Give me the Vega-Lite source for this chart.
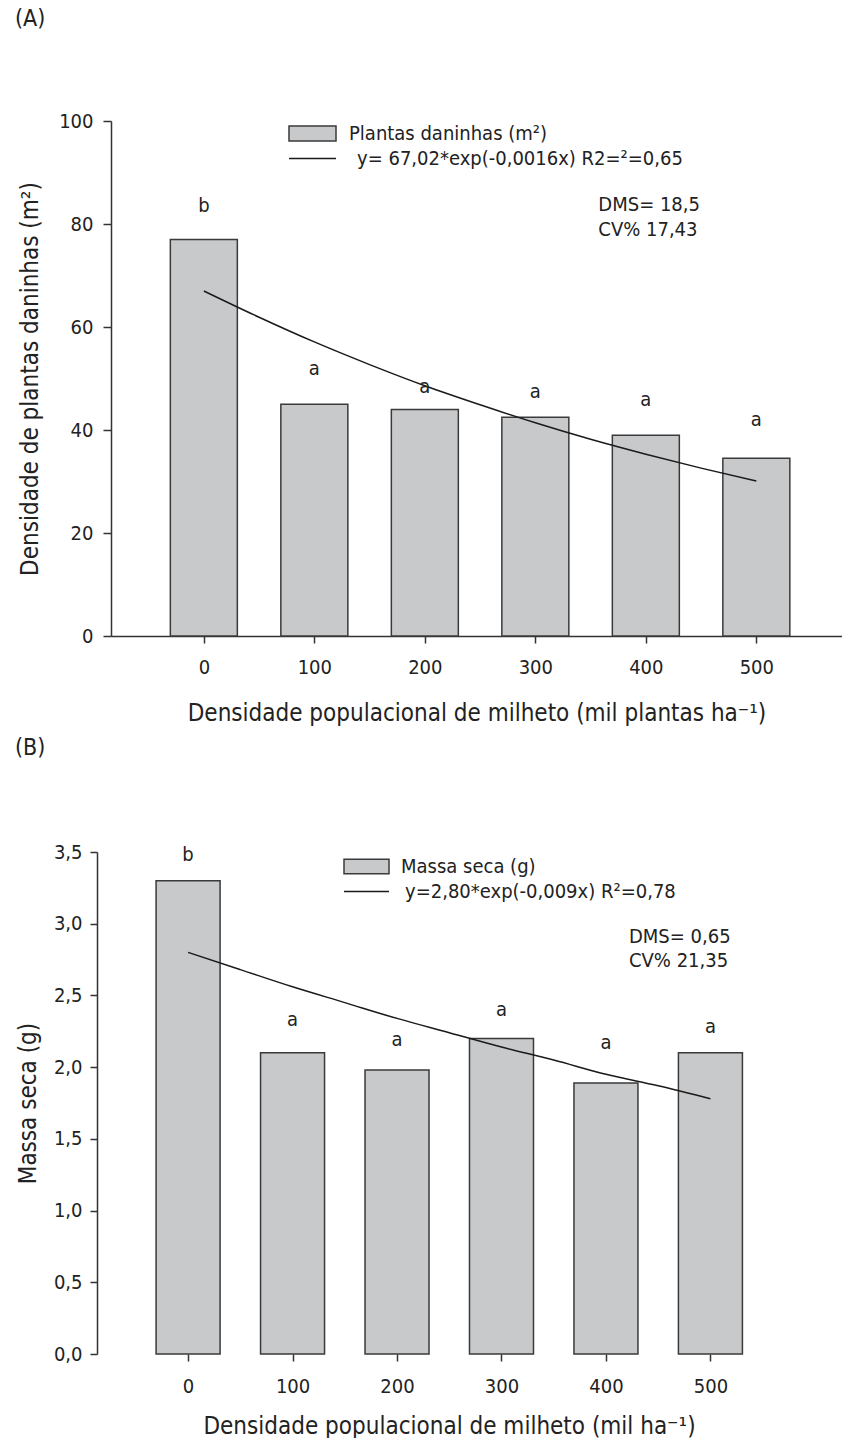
{
  "$schema": "https://vega.github.io/schema/vega-lite/v6.json",
  "background": "white",
  "padding": {"left": 15, "top": 8, "right": 0, "bottom": 0},
  "config": {
    "locale": {"number": {"decimal": ",", "thousands": ".", "grouping": [3], "currency": ["", ""]}},
    "font": "DejaVu Sans Condensed",
    "view": {"stroke": null},
    "axis": {"grid": false, "domainColor": "#333333", "tickColor": "#333333", "domainWidth": 1.5, "tickWidth": 1.5, "labelColor": "#222222", "titleColor": "#222222", "labelFont": "DejaVu Sans Condensed", "titleFont": "DejaVu Sans Condensed", "labelFontSize": 20, "titleFontSize": 24, "titleFontWeight": "normal"},
    "legend": {"labelFont": "DejaVu Sans Condensed", "labelFontSize": 20, "labelColor": "#222222", "padding": 0, "labelLimit": 0},
    "title": {"font": "DejaVu Sans Condensed", "fontSize": 23, "fontWeight": "normal", "color": "#222222", "anchor": "start", "baseline": "bottom", "frame": "group"}
  },
  "datasets": {
    "aBars": [
      {"dens": 0, "val": 77, "letter": "b", "ly": 83.5},
      {"dens": 100, "val": 45, "letter": "a", "ly": 51.8},
      {"dens": 200, "val": 44, "letter": "a", "ly": 48.3},
      {"dens": 300, "val": 42.5, "letter": "a", "ly": 47.4},
      {"dens": 400, "val": 39, "letter": "a", "ly": 45.8},
      {"dens": 500, "val": 34.5, "letter": "a", "ly": 41.9}
    ],
    "aFit": [
      {"dens": 0, "fit": 67.0}, {"dens": 50, "fit": 61.9}, {"dens": 100, "fit": 57.1},
      {"dens": 150, "fit": 52.7}, {"dens": 200, "fit": 48.6}, {"dens": 250, "fit": 44.9},
      {"dens": 300, "fit": 41.4}, {"dens": 350, "fit": 38.2}, {"dens": 400, "fit": 35.3},
      {"dens": 450, "fit": 32.6}, {"dens": 500, "fit": 30.1}
    ],
    "aNote": [{"dens": 357, "val": 83.6, "note": "DMS= 18,5\nCV% 17,43"}],
    "bBars": [
      {"dens": 0, "val": 3.3, "letter": "b", "ly": 3.48},
      {"dens": 100, "val": 2.1, "letter": "a", "ly": 2.33},
      {"dens": 200, "val": 1.98, "letter": "a", "ly": 2.19},
      {"dens": 300, "val": 2.2, "letter": "a", "ly": 2.40},
      {"dens": 400, "val": 1.89, "letter": "a", "ly": 2.17},
      {"dens": 500, "val": 2.1, "letter": "a", "ly": 2.28}
    ],
    "bFit": [
      {"dens": 0, "fit": 2.80}, {"dens": 50, "fit": 2.68}, {"dens": 100, "fit": 2.56},
      {"dens": 150, "fit": 2.45}, {"dens": 200, "fit": 2.34}, {"dens": 250, "fit": 2.24},
      {"dens": 300, "fit": 2.14}, {"dens": 350, "fit": 2.05}, {"dens": 400, "fit": 1.95},
      {"dens": 450, "fit": 1.87}, {"dens": 500, "fit": 1.78}
    ],
    "bNote": [{"dens": 422, "val": 2.904, "note": "DMS= 0,65\nCV% 21,35"}]
  },
  "spacing": 12,
  "columns": 1,
  "resolve": {
    "scale": {"fill": "independent", "stroke": "independent"},
    "legend": {"fill": "independent", "stroke": "independent"}
  },
  "concat": [
    {
      "title": {"text": "(A)", "dx": -96, "offset": 78},
      "width": 731,
      "height": 515,
      "layer": [
        {
          "data": {"name": "aBars"},
          "mark": {"type": "bar", "width": 67, "stroke": "#3a3a3a", "strokeWidth": 1.5},
          "encoding": {
            "x": {"field": "dens", "type": "quantitative", "scale": {"domain": [-79.5, 573], "nice": false, "zero": false},
              "axis": {"values": [0, 100, 200, 300, 400, 500], "format": "d", "tickSize": 7, "labelPadding": 14,
                "title": "Densidade populacional de milheto (mil plantas ha⁻¹)", "titleY": 77, "titleBaseline": "middle"}},
            "y": {"field": "val", "type": "quantitative", "scale": {"domain": [0, 100], "nice": false},
              "axis": {"values": [0, 20, 40, 60, 80, 100], "tickSize": 8, "labelPadding": 10,
                "title": "Densidade de plantas daninhas (m²)", "titleX": -81, "titleBaseline": "middle"}},
            "fill": {"datum": "Plantas daninhas (m²)", "type": "nominal", "scale": {"range": ["#c8c9cb"]},
              "legend": {"title": null, "orient": "none", "legendX": 177, "legendY": -12, "symbolType": "M-1,-0.32H1V0.32H-1Z", "symbolSize": 2209, "symbolStrokeColor": "#3a3a3a", "symbolStrokeWidth": 1.5, "symbolOpacity": 1, "labelOffset": 12}}
          }
        },
        {
          "data": {"name": "aFit"},
          "mark": {"type": "line", "interpolate": "monotone", "strokeWidth": 1.5},
          "encoding": {
            "x": {"field": "dens", "type": "quantitative"},
            "y": {"field": "fit", "type": "quantitative"},
            "stroke": {"datum": "y= 67,02*exp(-0,0016x) R2=²=0,65", "type": "nominal", "scale": {"range": ["#1a1a1a"]},
              "legend": {"title": null, "orient": "none", "legendX": 177, "legendY": 13, "symbolType": "stroke", "symbolSize": 2209, "symbolStrokeWidth": 1.5, "labelOffset": 20}}
          }
        },
        {
          "data": {"name": "aBars"},
          "mark": {"type": "text", "fontSize": 20, "color": "#222222", "baseline": "middle"},
          "encoding": {
            "x": {"field": "dens", "type": "quantitative"},
            "y": {"field": "ly", "type": "quantitative"},
            "text": {"field": "letter"}
          }
        },
        {
          "data": {"name": "aNote"},
          "mark": {"type": "text", "fontSize": 20, "color": "#222222", "align": "left", "baseline": "middle", "lineBreak": "\n", "lineHeight": 25},
          "encoding": {
            "x": {"field": "dens", "type": "quantitative"},
            "y": {"field": "val", "type": "quantitative"},
            "text": {"field": "note"}
          }
        }
      ]
    },
    {
      "title": {"text": "(B)", "dx": -96, "offset": 82},
      "width": 688,
      "height": 502,
      "layer": [
        {
          "data": {"name": "bBars"},
          "mark": {"type": "bar", "width": 64, "stroke": "#3a3a3a", "strokeWidth": 1.5},
          "encoding": {
            "x": {"field": "dens", "type": "quantitative", "scale": {"domain": [-69, 580], "nice": false, "zero": false},
              "axis": {"values": [0, 100, 200, 300, 400, 500], "format": "d", "tickSize": 7, "labelPadding": 15, "domain": false,
                "title": "Densidade populacional de milheto (mil ha⁻¹)", "titleY": 72, "titleBaseline": "middle", "titleX": 338}},
            "y": {"field": "val", "type": "quantitative", "scale": {"domain": [0, 3.5], "nice": false},
              "axis": {"values": [0, 0.5, 1, 1.5, 2, 2.5, 3, 3.5], "format": ".1f", "tickSize": 7, "labelPadding": 8, "offset": 14,
                "title": "Massa seca (g)", "titleX": -69, "titleBaseline": "middle"}},
            "fill": {"datum": "Massa seca (g)", "type": "nominal", "scale": {"range": ["#c8c9cb"]},
              "legend": {"title": null, "orient": "none", "legendX": 232, "legendY": -9, "symbolType": "M-1,-0.32H1V0.32H-1Z", "symbolSize": 2025, "symbolStrokeColor": "#3a3a3a", "symbolStrokeWidth": 1.5, "symbolOpacity": 1, "labelOffset": 11}}
          }
        },
        {
          "mark": {"type": "rule", "color": "#333333", "strokeWidth": 1.5},
          "encoding": {
            "x": {"datum": -82},
            "x2": {"datum": 580},
            "y": {"datum": 0}
          }
        },
        {
          "data": {"name": "bFit"},
          "mark": {"type": "line", "interpolate": "monotone", "strokeWidth": 1.5},
          "encoding": {
            "x": {"field": "dens", "type": "quantitative"},
            "y": {"field": "fit", "type": "quantitative"},
            "stroke": {"datum": "y=2,80*exp(-0,009x) R²=0,78", "type": "nominal", "scale": {"range": ["#1a1a1a"]},
              "legend": {"title": null, "orient": "none", "legendX": 232, "legendY": 16, "symbolType": "stroke", "symbolSize": 2025, "symbolStrokeWidth": 1.5, "labelOffset": 15}}
          }
        },
        {
          "data": {"name": "bBars"},
          "mark": {"type": "text", "fontSize": 20, "color": "#222222", "baseline": "middle"},
          "encoding": {
            "x": {"field": "dens", "type": "quantitative"},
            "y": {"field": "ly", "type": "quantitative"},
            "text": {"field": "letter"}
          }
        },
        {
          "data": {"name": "bNote"},
          "mark": {"type": "text", "fontSize": 20, "color": "#222222", "align": "left", "baseline": "middle", "lineBreak": "\n", "lineHeight": 24},
          "encoding": {
            "x": {"field": "dens", "type": "quantitative"},
            "y": {"field": "val", "type": "quantitative"},
            "text": {"field": "note"}
          }
        }
      ]
    }
  ]
}
